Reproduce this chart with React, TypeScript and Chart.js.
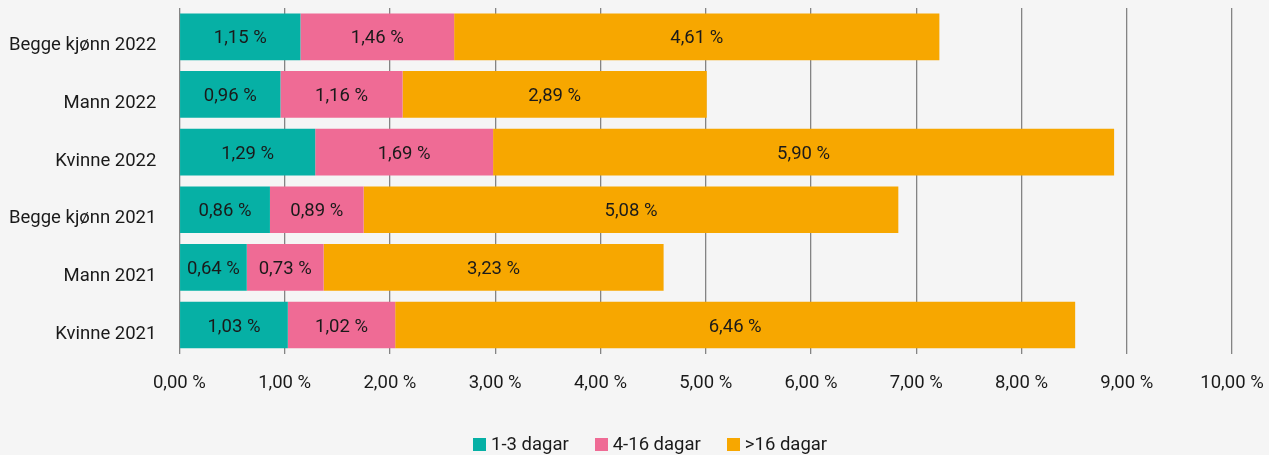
import React, { useEffect, useRef } from "react";
import { Chart, registerables } from "chart.js";

Chart.register(...registerables);

const categories = ["Begge kjønn 2022", "Mann 2022", "Kvinne 2022", "Begge kjønn 2021", "Mann 2021", "Kvinne 2021"];
const short = [1.15, 0.96, 1.29, 0.86, 0.64, 1.03];
const medium = [1.46, 1.16, 1.69, 0.89, 0.73, 1.02];
const long = [4.61, 2.89, 5.9, 5.08, 3.23, 6.46];
const seriesNames = ["1-3 dagar", "4-16 dagar", ">16 dagar"];
const colors = ["#06b0a5", "#ef6b95", "#f7a700"];

const fmt = (v: number) => v.toFixed(2).replace(".", ",") + " %";
const FONT = "Roboto";
const FS = 18.5;
const TEXT = "#1a1a1a";

const labelPlugin = {
  id: "segLabels",
  afterDatasetsDraw(chart: any) {
    const ctx = chart.ctx;
    ctx.save();
    ctx.font = `${FS}px ${FONT}`;
    ctx.fillStyle = TEXT;
    ctx.textAlign = "center";
    ctx.textBaseline = "middle";
    chart.data.datasets.forEach((ds: any, di: number) => {
      const meta = chart.getDatasetMeta(di);
      meta.data.forEach((el: any, i: number) => {
        const { x, base, y } = el.getProps(["x", "base", "y"], true);
        ctx.fillText(fmt(ds.data[i]), (x + base) / 2, y + 2);
      });
    });
    ctx.restore();
  },
};

export default function App() {
  const ref = useRef<HTMLCanvasElement>(null);
  useEffect(() => {
    document.body.style.margin = "0";
    const chart = new Chart(ref.current!, {
      type: "bar",
      data: {
        labels: categories,
        datasets: [short, medium, long].map((d, i) => ({
          label: seriesNames[i],
          data: d,
          backgroundColor: colors[i],
          borderWidth: 0,
          barPercentage: 0.81,
          categoryPercentage: 1,
        })),
      },
      options: {
        indexAxis: "y",
        animation: false,
        responsive: false,
        maintainAspectRatio: false,
        layout: { padding: { top: 8, left: 9, right: 37, bottom: 61 } },
        scales: {
          x: {
            stacked: true,
            min: 0,
            max: 10,
            ticks: {
              stepSize: 1,
              callback: (v: any) => fmt(Number(v)),
              color: TEXT,
              font: { family: FONT, size: FS },
              padding: 0,
              maxRotation: 0,
            },
            grid: { color: "#848484", lineWidth: 1.3, drawTicks: true, tickLength: 18, tickColor: "rgba(0,0,0,0)" },
            border: { display: false },
          },
          y: {
            stacked: true,
            ticks: {
              color: TEXT,
              font: { family: FONT, size: FS, lineHeight: 0.8 },
              padding: 0,
              labelOffset: 9,
            },
            grid: { display: true, color: "rgba(0,0,0,0)", drawTicks: true, tickLength: 23, tickColor: "rgba(0,0,0,0)" },
            border: { display: false },
          },
        },
        plugins: {
          legend: { display: false },
          tooltip: { enabled: false },
        },
      },
      plugins: [labelPlugin],
    });
    return () => chart.destroy();
  }, []);
  return (
    <div style={{ position: "relative", width: 1269, height: 455, background: "#f5f5f5" }}>
      <canvas ref={ref} width={1269} height={455} style={{ display: "block" }} />
      <div
        style={{
          position: "absolute",
          left: 473,
          top: 433,
          height: 22,
          display: "flex",
          alignItems: "center",
          gap: 26,
          fontFamily: FONT,
          fontSize: FS,
          color: TEXT,
          whiteSpace: "nowrap",
        }}
      >
        {seriesNames.map((n, i) => (
          <div key={n} style={{ display: "flex", alignItems: "center" }}>
            <span style={{ display: "inline-block", width: 13, height: 13, background: colors[i], marginRight: 5 }} />
            <span>{n}</span>
          </div>
        ))}
      </div>
    </div>
  );
}
